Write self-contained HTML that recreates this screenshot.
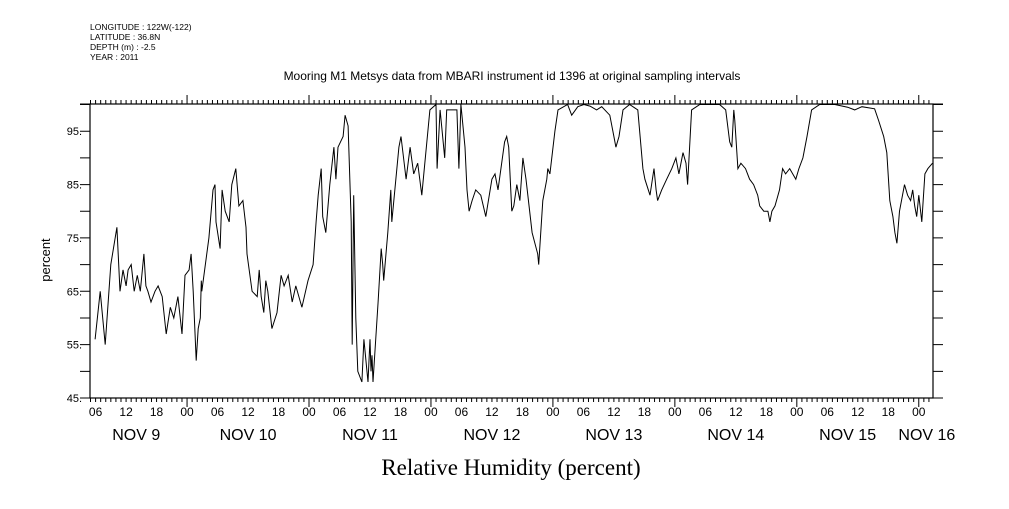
<!DOCTYPE html>
<html><head><meta charset="utf-8">
<style>
html,body{margin:0;padding:0;background:#fff;}
body{width:1009px;height:504px;overflow:hidden;font-family:"Liberation Sans",sans-serif;}
</style></head>
<body>
<svg id="chart" width="1009" height="504" xmlns="http://www.w3.org/2000/svg">
<g font-family="Liberation Sans, sans-serif" font-size="8.5" fill="#000">
<text x="90" y="30">LONGITUDE : 122W(-122)</text>
<text x="90" y="40">LATITUDE : 36.8N</text>
<text x="90" y="50">DEPTH (m) : -2.5</text>
<text x="90" y="60">YEAR : 2011</text>
</g>
<text x="512" y="80" text-anchor="middle" font-size="12" font-family="Liberation Sans, sans-serif">Mooring M1 Metsys data from MBARI instrument id 1396 at original sampling intervals</text>
<text transform="translate(50,260) rotate(-90)" text-anchor="middle" font-size="13" font-family="Liberation Sans, sans-serif">percent</text>
<text x="511" y="475" text-anchor="middle" font-size="23" font-family="Liberation Serif, serif">Relative Humidity (percent)</text>
<g id="axes"></g>
<path id="line" fill="none" stroke="#000" stroke-width="1"/>
</svg>
<script>
// hours since Nov 9 00:00
const hours=[5.9,6.9,7.9,9.0,10.2,10.8,11.4,12.0,12.4,13.0,13.6,14.2,14.8,15.5,15.9,16.3,16.9,17.7,18.3,19.1,19.9,20.7,21.4,22.2,23.0,23.6,24.4,24.8,25.2,25.8,26.2,26.6,26.8,26.9,28.3,29.1,29.5,29.7,30.5,30.9,31.5,32.3,32.8,33.6,34.2,35.0,35.6,35.8,36.8,37.8,38.2,38.6,39.1,39.5,39.9,40.7,41.7,42.5,43.1,43.9,44.7,45.4,46.6,47.8,48.8,49.4,49.8,50.4,50.7,51.3,52.1,52.9,53.3,53.7,54.7,55.1,55.7,56.3,56.5,56.8,57.2,57.6,58.4,58.8,59.6,60.0,60.2,60.4,60.6,61.6,62.2,62.5,62.7,63.5,64.1,64.3,65.7,66.1,67.1,67.9,68.6,69.4,70.2,70.6,71.8,73.0,73.2,73.8,74.7,75.1,77.1,77.5,77.9,78.7,79.1,79.5,80.1,80.8,81.8,82.8,84.0,84.6,85.2,86.5,86.9,87.3,87.9,88.3,88.9,89.5,90.1,90.7,91.9,93.0,93.2,94.0,94.8,95.0,95.4,96.4,97.0,98.9,99.7,100.9,102.1,103.3,104.6,105.6,107.2,108.0,108.4,109.0,109.8,111.1,112.7,113.7,114.1,115.1,115.9,116.3,116.6,117.4,118.4,119.4,120.2,120.8,121.6,122.2,122.5,123.3,124.9,128.8,130.0,130.8,131.2,131.6,131.8,132.4,133.0,133.9,134.7,135.5,136.3,136.7,137.5,138.3,138.7,139.1,139.7,140.3,140.6,141.2,141.8,142.6,143.8,144.4,145.2,146.0,146.9,148.5,151.5,154.0,155.4,156.8,159.3,160.1,161.1,161.7,162.3,162.9,163.3,163.7,164.2,165.2,165.8,166.4,166.8,167.2,167.6,168.0,168.6,169.2,169.8,170.7];
const values=[56,65,55,70,77,65,69,66,69,70,65,68,65,72,66,65,63,65,66,64,57,62,60,64,57,68,69,72,65,52,58,60,67,65,75,84,85,78,73,84,80,78,85,88,81,82,77,72,65,64,69,64,61,67,65,58,61,68,66,68,63,66,62,67,70,78,83,88,79,76,85,92,86,92,94,98,96,78,55,83,60,50,48,56,48,56,50,53,48,63,73,70,67,76,84,78,92,94,86,92,87,89,83,87,99,100,88,99,90,99,99,88,100,92,84,80,82,84,83,79,86,87,84,93,94,92,80,81,85,82,90,86,76,72,70,82,86,88,87,95,99,100,98,99.6,100,99.7,99,99.6,98,94,92,94,99,100,99,88,86,83,88,84,82,84,86,88,90,87,91,89,85,99,100,100,99,93,92,99,97,88,89,88,86,85,83,81,80,80,78,80,81,83,84,88,87,88,86,88,90,94,99,100,100,99.5,99,99.6,99.2,97,94,91,82,79,76,74,80,85,83,82,84,81,79,83,78,87,88,89];
const yTicks=[45,55,65,75,85,95];
const hourLabels=["06","12","18","00"];
const dayLabels=["NOV  9","NOV 10","NOV 11","NOV 12","NOV 13","NOV 14","NOV 15","NOV 16"];

const L=90,R=933,T=104,B=398,H0=4.9,H1=170.8,V0=45,V1=100.1;
const xs=h=>L+(h-H0)/(H1-H0)*(R-L);
const ys=v=>B-(v-V0)/(V1-V0)*(B-T);
const NS="http://www.w3.org/2000/svg";
const ax=document.getElementById('axes');
function mk(tag,attrs){const e=document.createElementNS(NS,tag);for(const k in attrs)e.setAttribute(k,attrs[k]);ax.appendChild(e);return e;}
let f=mk('rect',{x:L,y:T,width:R-L,height:B-T,fill:'none',stroke:'#000','stroke-width':1.2});


let d='';
for(let v=45;v<=100;v+=5){const y=ys(v);d+=`M${L-10},${y}H${L}M${R},${y}H${R+10}`;}
d+=`M${L-10},${T}H${R+10}M${L-10},${B}H${R+10}`;
for(let h=Math.ceil(H0);h<=H1;h++){const x=xs(h);const len=h%24===0?9:4;d+=`M${x},${T}V${T-len}M${x},${B}V${B+len}`;}
let tk=mk('path',{d:d,stroke:'#000','stroke-width':1,fill:'none'});


yTicks.forEach(v=>{const t=mk('text',{x:L-8,y:ys(v)+4,'text-anchor':'end','font-size':11});t.textContent=v+'.';

});
for(let h=Math.ceil(H0/6)*6;h<=H1;h+=6){const t=mk('text',{x:xs(h),y:416,'text-anchor':'middle','font-size':12});t.textContent=hourLabels[(h/6+3)%4];

}
dayLabels.forEach((s,i)=>{let cx=xs(i*24+12);if(i===0)cx=xs(14);if(i===6)cx=xs(i*24+10);if(i===7)cx=xs(169)+3;
const t=mk('text',{x:cx,y:440,'text-anchor':'middle','font-size':16,'xml:space':'preserve'});t.textContent=s;

});
document.getElementById('line').setAttribute('d',hours.map((h,i)=>(i?'L':'M')+xs(h).toFixed(1)+','+ys(values[i]).toFixed(1)).join(''));
</script>
</body></html>
